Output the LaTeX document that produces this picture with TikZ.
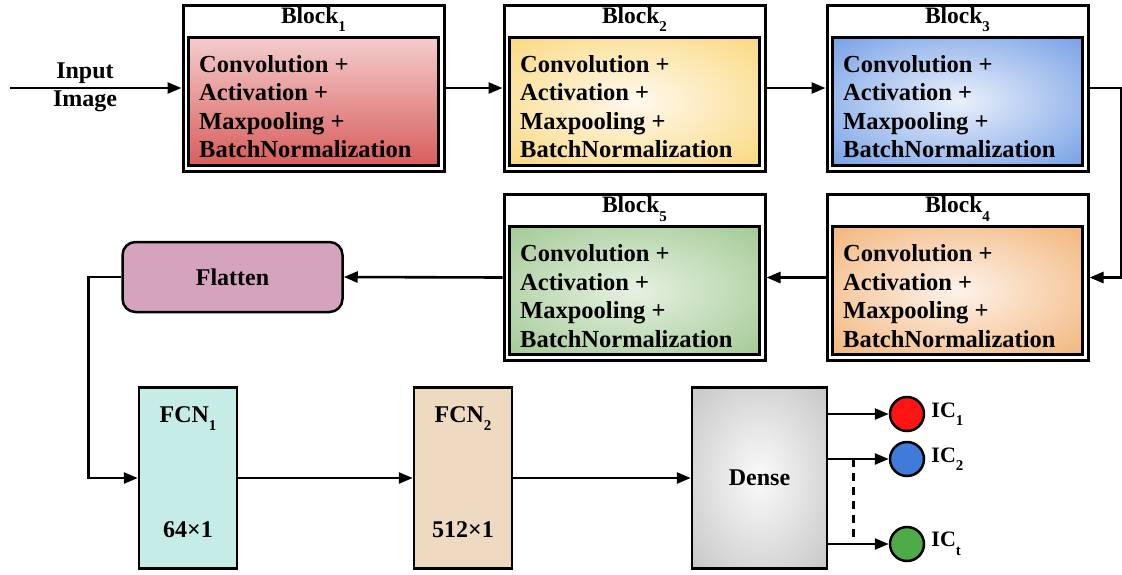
\documentclass[tikz,border=0pt]{standalone}
\usepackage{fontspec}
\setmainfont{Liberation Serif}
\usetikzlibrary{arrows.meta,calc}

% palette
\definecolor{redtop}{HTML}{F4CDCD}
\definecolor{redbot}{HTML}{D85E5C}
\definecolor{yelin}{HTML}{FFF9EE}
\definecolor{yelout}{HTML}{F8CF5E}
\definecolor{bluin}{HTML}{EAF0FB}
\definecolor{bluout}{HTML}{5589DF}
\definecolor{orain}{HTML}{FDF2EA}
\definecolor{oraout}{HTML}{EFA45A}
\definecolor{grnin}{HTML}{E6F1E1}
\definecolor{grnout}{HTML}{8FBE7E}
\definecolor{grayin}{HTML}{FAFAFA}
\definecolor{grayout}{HTML}{ABABAB}
\definecolor{flatc}{HTML}{D6A3BE}
\definecolor{fcnone}{HTML}{C5ECE6}
\definecolor{fcntwo}{HTML}{EED9C1}
\definecolor{icred}{HTML}{FF1414}
\definecolor{icblue}{HTML}{3F7BD9}
\definecolor{icgreen}{HTML}{4EAB48}

% soft glow fills (bright centre, saturated rim)
\pgfdeclareradialshading{glowyellow}{\pgfpoint{0bp}{0bp}}{color(0bp)=(yelin); color(46bp)=(yelout); color(100bp)=(yelout)}
\pgfdeclareradialshading{glowblue}{\pgfpoint{0bp}{0bp}}{color(0bp)=(bluin); color(46bp)=(bluout); color(100bp)=(bluout)}
\pgfdeclareradialshading{gloworange}{\pgfpoint{0bp}{0bp}}{color(0bp)=(orain); color(46bp)=(oraout); color(100bp)=(oraout)}
\pgfdeclareradialshading{glowgreen}{\pgfpoint{0bp}{0bp}}{color(0bp)=(grnin); color(46bp)=(grnout); color(100bp)=(grnout)}
\pgfdeclareradialshading{glowgray}{\pgfpoint{0bp}{0bp}}{color(0bp)=(grayin); color(55bp)=(grayout); color(100bp)=(grayout)}

\newcommand{\lowsub}[1]{\raisebox{-8.5pt}{\fontsize{15}{15}\selectfont #1}}

\tikzset{
  blockframe/.style={draw, line width=3pt, minimum width=261pt, minimum height=166pt, inner sep=0pt},
  blockcore/.style={draw, line width=3pt, minimum width=250pt, minimum height=128pt, inner sep=0pt},
  blocktext/.style={anchor=north west, align=left, inner sep=0pt, font=\fontsize{24.5}{28.5}\selectfont\bfseries},
  blocktitle/.style={anchor=base, inner sep=0pt, font=\fontsize{23.5}{24}\selectfont\bfseries},
  bigtext/.style={font=\fontsize{24}{28}\selectfont\bfseries},
  fcnbox/.style={draw, line width=2.5pt, minimum width=98pt, minimum height=181pt, inner sep=0pt},
  ic/.style={draw, circle, line width=2.5pt, minimum size=34pt, inner sep=0pt},
  iclabel/.style={anchor=west, inner sep=0pt, font=\fontsize{22}{24}\selectfont\bfseries},
  arr/.style={line width=2.6pt, -{Triangle[length=14pt,width=11pt]}},
  plain/.style={line width=2.6pt},
}

\begin{document}
\begin{tikzpicture}[x=1pt,y=-1pt]
\useasboundingbox (0,0) rectangle (1122,574);

% ---------- convolution blocks ----------
\node[blockframe] (b1o) at (313.5,88) {};
\node[blockcore, top color=redtop, bottom color=redbot] (b1) at (313.5,101) {};
\node[blocktitle] (b1t) at (313.5,23) {Block\lowsub{1}};
\node[blocktext] (b1x) at ($(b1.north west)+(12,19.5)$) {Convolution +\\Activation +\\Maxpooling +\\BatchNormalization};

\node[blockframe] (b2o) at (634.5,88) {};
\node[blockcore, shading=glowyellow] (b2) at (634.5,101) {};
\node[blocktitle] (b2t) at (634.5,23) {Block\lowsub{2}};
\node[blocktext] (b2x) at ($(b2.north west)+(12,19.5)$) {Convolution +\\Activation +\\Maxpooling +\\BatchNormalization};

\node[blockframe] (b3o) at (957.5,88) {};
\node[blockcore, shading=glowblue] (b3) at (957.5,101) {};
\node[blocktitle] (b3t) at (957.5,23) {Block\lowsub{3}};
\node[blocktext] (b3x) at ($(b3.north west)+(12,19.5)$) {Convolution +\\Activation +\\Maxpooling +\\BatchNormalization};

\node[blockframe] (b4o) at (957.5,277.5) {};
\node[blockcore, shading=gloworange] (b4) at (957.5,290.5) {};
\node[blocktitle] (b4t) at (957.5,212.5) {Block\lowsub{4}};
\node[blocktext] (b4x) at ($(b4.north west)+(12,19.5)$) {Convolution +\\Activation +\\Maxpooling +\\BatchNormalization};

\node[blockframe] (b5o) at (634.5,277.5) {};
\node[blockcore, shading=glowgreen] (b5) at (634.5,290.5) {};
\node[blocktitle] (b5t) at (634.5,212.5) {Block\lowsub{5}};
\node[blocktext] (b5x) at ($(b5.north west)+(12,19.5)$) {Convolution +\\Activation +\\Maxpooling +\\BatchNormalization};

% ---------- flatten, fully connected, dense ----------
\node[draw, line width=2.5pt, rounded corners=13pt, fill=flatc, minimum width=220pt, minimum height=70pt, bigtext] (fl) at (232.5,277) {Flatten};

\node[fcnbox, fill=fcnone] (f1) at (188,478) {};
\node[bigtext, anchor=base, inner sep=0pt] (f1t) at ($(f1.north)+(0,36)$) {FCN\lowsub{1}};
\node[bigtext, anchor=base, inner sep=0pt] (f1s) at ($(f1.north)+(0,151)$) {64×1};

\node[fcnbox, fill=fcntwo] (f2) at (463,478) {};
\node[bigtext, anchor=base, inner sep=0pt] (f2t) at ($(f2.north)+(0,36)$) {FCN\lowsub{2}};
\node[bigtext, anchor=base, inner sep=0pt] (f2s) at ($(f2.north)+(0,151)$) {512×1};

\node[draw, line width=2.5pt, shading=glowgray, minimum width=135pt, minimum height=181pt, inner sep=0pt, bigtext] (dn) at (759.5,478) {Dense};

% ---------- output classes ----------
\node[ic, fill=icred] (c1) at (907,414) {};
\node[ic, fill=icblue] (c2) at (907,459) {};
\node[ic, fill=icgreen] (ct) at (907,544) {};
\node[iclabel] (l1) at ($(c1.east)+(6,0)$) {IC\lowsub{1}};
\node[iclabel] (l2) at ($(c2.east)+(6,0)$) {IC\lowsub{2}};
\node[iclabel] (lt) at ($(ct.east)+(6,0)$) {IC\lowsub{t}};

% ---------- input ----------
\coordinate (src) at (10,88);
\node[bigtext, align=center, inner sep=0pt] (inlab) at (85,87.5) {Input\\Image};

% ---------- connectors ----------
\draw[arr] (src) -- (b1o.west);
\draw[arr] (b1o.east) -- (b2o.west);
\draw[arr] (b2o.east) -- (b3o.west);
\draw[arr] (b3o.east) -- ++(32,0) |- (b4o.east);
\draw[arr] (b4o.west) -- (b5o.east);
\draw[arr] (b5o.west) -- (fl.east);
\draw[arr] (fl.west) -- ++(-33,0) |- (f1.west);
\draw[arr] (f1.east) -- (f2.west);
\draw[arr] (f2.east) -- (dn.west);
\draw[arr] (dn.east |- c1) -- (c1.west);
\draw[arr] (dn.east |- c2) -- (c2.west);
\draw[arr] (dn.east |- ct) -- (ct.west);
\coordinate (tapa) at ($(dn.east |- c2)+(25,0)$);
\coordinate (tapb) at ($(dn.east |- ct)+(25,0)$);
\draw[plain, dash pattern=on 8pt off 6pt] (tapa) -- (tapb);
\end{tikzpicture}
\end{document}
